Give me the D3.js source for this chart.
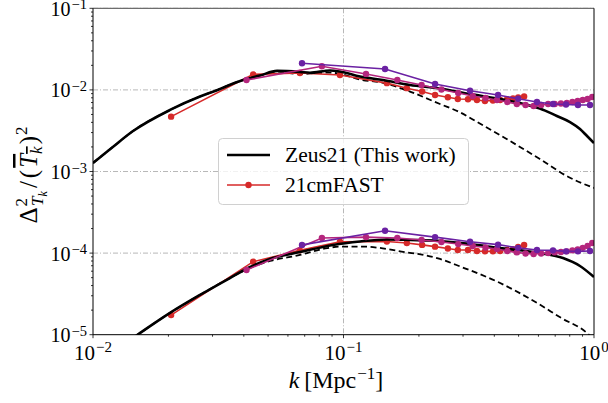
<!DOCTYPE html>
<html><head><meta charset="utf-8">
<script src="https://cdn.jsdelivr.net/npm/d3@7"></script>
<style>
html,body{margin:0;padding:0;background:#fff;}
svg text{font-family:"Liberation Serif","DejaVu Serif",serif;fill:#000;}
</style></head>
<body><svg id="chart" width="608" height="403" font-family="Liberation Serif, DejaVu Serif, serif"></svg>
<script>
// ---------------- DATA ----------------
const xTickValues = [0.01, 0.1, 1];
const xTickExps = ["\u22122", "\u22121", "0"];
const yTickValues = [1e-5, 1e-4, 1e-3, 1e-2, 1e-1];
const yTickExps = ["\u22125", "\u22124", "\u22123", "\u22122", "\u22121"];
const yGridValues = [1e-4, 1e-3, 1e-2, 1e-1];
const xGridValues = [0.1];

// Zeus21, upper redshift, solid
const zeusHiK = [0.0100, 0.0120, 0.01445, 0.0203, 0.02674, 0.0301, 0.0397, 0.0464, 0.0543, 0.0670, 0.0735, 0.0883, 0.0968, 0.1164, 0.1439, 0.1842, 0.2427, 0.320, 0.410, 0.507, 0.608, 0.711, 0.802, 0.879, 0.938, 1.0];
const zeusHiV = [1.27e-3, 2.0e-3, 3.13e-3, 5.68e-3, 8.30e-3, 9.5e-3, 1.32e-2, 1.50e-2, 1.71e-2, 1.66e-2, 1.62e-2, 1.73e-2, 1.68e-2, 1.46e-2, 1.32e-2, 1.15e-2, 1.04e-2, 8.9e-3, 7.85e-3, 6.9e-3, 5.91e-3, 4.79e-3, 4.04e-3, 3.32e-3, 2.72e-3, 2.23e-3];
// Zeus21, upper redshift, dashed
const zeusHiDashK = [0.0100, 0.0120, 0.01445, 0.0203, 0.02674, 0.0301, 0.0397, 0.0464, 0.0543, 0.0670, 0.0735, 0.0883, 0.0968, 0.1164, 0.1439, 0.1842, 0.2427, 0.290, 0.341, 0.448, 0.608, 0.791, 1.0];
const zeusHiDashV = [1.27e-3, 2.0e-3, 3.13e-3, 5.68e-3, 8.30e-3, 9.5e-3, 1.32e-2, 1.50e-2, 1.68e-2, 1.56e-2, 1.59e-2, 1.63e-2, 1.57e-2, 1.34e-2, 1.22e-2, 9.55e-3, 6.71e-3, 5.36e-3, 4.05e-3, 2.50e-3, 1.42e-3, 8.57e-4, 6.28e-4];
// Zeus21, lower redshift, solid
const zeusLoK = [0.01282, 0.0150, 0.0203, 0.02674, 0.0352, 0.0424, 0.0509, 0.0670, 0.0908, 0.1164, 0.149, 0.1842, 0.2427, 0.320, 0.422, 0.608, 0.752, 0.879, 1.0];
const zeusLoV = [7.1e-6, 9.9e-6, 1.85e-5, 3.07e-5, 4.95e-5, 6.76e-5, 8.48e-5, 1.03e-4, 1.26e-4, 1.39e-4, 1.47e-4, 1.45e-4, 1.41e-4, 1.29e-4, 1.15e-4, 1.00e-4, 8.7e-5, 6.95e-5, 5.09e-5];
// Zeus21, lower redshift, dashed
const zeusLoDashK = [0.01282, 0.0150, 0.0203, 0.02674, 0.0352, 0.0424, 0.0509, 0.0670, 0.0844, 0.0976, 0.1227, 0.1385, 0.1658, 0.2427, 0.2938, 0.418, 0.592, 0.741, 0.940, 1.0];
const zeusLoDashV = [7.1e-6, 9.9e-6, 1.85e-5, 3.07e-5, 4.95e-5, 6.60e-5, 8.0e-5, 9.48e-5, 1.14e-4, 1.20e-4, 1.20e-4, 1.16e-4, 1.06e-4, 8.48e-5, 6.81e-5, 4.36e-5, 2.45e-5, 1.60e-5, 1.04e-5, 8.6e-6];

// 21cmFAST, red
const redK = [0.0205, 0.0436, 0.0670, 0.0968, 0.149, 0.179, 0.206, 0.232, 0.261, 0.286, 0.314, 0.341, 0.367, 0.395, 0.422, 0.450, 0.475, 0.498, 0.526];
const redHiV = [4.70e-3, 1.55e-2, 1.61e-2, 1.52e-2, 1.21e-2, 1.05e-2, 9.55e-3, 8.66e-3, 8.11e-3, 7.74e-3, 7.67e-3, 7.52e-3, 7.31e-3, 7.41e-3, 7.52e-3, 7.67e-3, 7.85e-3, 8.07e-3, 8.30e-3];
const redLoV = [1.74e-5, 7.85e-5, 1.08e-4, 1.38e-4, 1.39e-4, 1.33e-4, 1.26e-4, 1.20e-4, 1.14e-4, 1.09e-4, 1.09e-4, 1.06e-4, 1.05e-4, 1.05e-4, 1.06e-4, 1.09e-4, 1.12e-4, 1.19e-4, 1.26e-4];
// magenta
const magK = [0.041, 0.082, 0.123, 0.164, 0.205, 0.246, 0.287, 0.328, 0.369, 0.410, 0.451, 0.492, 0.533, 0.574, 0.615, 0.656, 0.697, 0.738, 0.779, 0.820, 0.861, 0.902, 0.943, 0.984];
const magHiV = [1.32e-2, 1.95e-2, 1.57e-2, 1.32e-2, 1.15e-2, 1.01e-2, 9.16e-3, 8.41e-3, 7.96e-3, 7.52e-3, 7.11e-3, 6.72e-3, 6.53e-3, 6.35e-3, 6.53e-3, 6.72e-3, 6.72e-3, 6.81e-3, 6.90e-3, 7.11e-3, 7.31e-3, 7.52e-3, 7.74e-3, 8.19e-3];
const magLoV = [6.21e-5, 1.53e-4, 1.57e-4, 1.53e-4, 1.45e-4, 1.37e-4, 1.29e-4, 1.22e-4, 1.17e-4, 1.12e-4, 1.06e-4, 1.02e-4, 9.88e-5, 9.75e-5, 9.88e-5, 1.00e-4, 1.02e-4, 1.03e-4, 1.05e-4, 1.08e-4, 1.11e-4, 1.16e-4, 1.22e-4, 1.33e-4];
// purple
const purK = [0.0683, 0.1465, 0.232, 0.320, 0.414, 0.498, 0.592, 0.686, 0.773, 0.863, 0.964];
const purHiV = [2.12e-2, 1.80e-2, 1.18e-2, 9.77e-3, 8.65e-3, 7.80e-3, 7.11e-3, 6.72e-3, 6.62e-3, 6.53e-3, 6.53e-3];
const purLoV = [1.26e-4, 1.88e-4, 1.57e-4, 1.38e-4, 1.27e-4, 1.16e-4, 1.09e-4, 1.08e-4, 1.05e-4, 1.05e-4, 1.06e-4];

const legendLabels = ["Zeus21 (This work)", "21cmFAST"];
const colors = {red: "#d62a2a", mag: "#b4267d", pur: "#6b21a3"};
const FONT = "Liberation Serif, DejaVu Serif, serif";

// ---------------- CHART ----------------
const svg = d3.select("#chart");
const L = 93, T = 8.3, R = 594, B = 334.7;
const x = d3.scaleLog().domain([0.01, 1]).range([L, R]);
const y = d3.scaleLog().domain([1e-5, 1e-1]).range([B, T]);

svg.append("defs").append("clipPath").attr("id", "clip")
  .append("rect").attr("x", L).attr("y", T).attr("width", R - L).attr("height", B - T);

// grid
const grid = svg.append("g");
grid.selectAll("line.h").data(yGridValues).join("line")
  .attr("x1", L).attr("x2", R).attr("y1", d => y(d)).attr("y2", d => y(d))
  .attr("stroke", "#b8b8b8").attr("stroke-width", 1).attr("stroke-dasharray", "5,2,1,2");
grid.selectAll("line.v").data(xGridValues).join("line")
  .attr("y1", T).attr("y2", B).attr("x1", d => x(d)).attr("x2", d => x(d))
  .attr("stroke", "#b8b8b8").attr("stroke-width", 1).attr("stroke-dasharray", "5,2,1,2");

const plot = svg.append("g").attr("clip-path", "url(#clip)");
const smooth = d3.line().x(d => x(d[0])).y(d => y(d[1])).curve(d3.curveMonotoneX);
const straight = d3.line().x(d => x(d[0])).y(d => y(d[1]));
const zip = (a, b) => a.map((v, i) => [v, b[i]]);

function blackCurve(k, v, dashed) {
  plot.append("path").datum(zip(k, v)).attr("d", smooth)
    .attr("fill", "none").attr("stroke", "#000").attr("stroke-width", dashed ? 1.8 : 2.6)
    .attr("stroke-dasharray", dashed ? "6,3.5" : null);
}
function markerSeries(k, v, col) {
  const g = plot.append("g");
  g.append("path").datum(zip(k, v)).attr("d", straight)
    .attr("fill", "none").attr("stroke", col).attr("stroke-width", 1.6);
  g.selectAll("circle").data(zip(k, v)).join("circle")
    .attr("cx", d => x(d[0])).attr("cy", d => y(d[1])).attr("r", 3.2).attr("fill", col);
}

blackCurve(zeusHiDashK, zeusHiDashV, true);
blackCurve(zeusLoDashK, zeusLoDashV, true);
markerSeries(redK, redHiV, colors.red);
markerSeries(redK, redLoV, colors.red);
blackCurve(zeusHiK, zeusHiV, false);
blackCurve(zeusLoK, zeusLoV, false);
markerSeries(magK, magHiV, colors.mag);
markerSeries(magK, magLoV, colors.mag);
markerSeries(purK, purHiV, colors.pur);
markerSeries(purK, purLoV, colors.pur);

// spines
svg.append("line").attr("x1", L).attr("x2", R).attr("y1", T).attr("y2", T).attr("stroke", "#6e6e6e").attr("stroke-width", 1.3);
svg.append("line").attr("x1", R).attr("x2", R).attr("y1", T).attr("y2", B).attr("stroke", "#000").attr("stroke-width", 1);
svg.append("line").attr("x1", L).attr("x2", L).attr("y1", T).attr("y2", B).attr("stroke", "#000").attr("stroke-width", 1);
svg.append("line").attr("x1", L).attr("x2", R).attr("y1", B).attr("y2", B).attr("stroke", "#000").attr("stroke-width", 1);

// ticks
const xMinor = x.ticks().filter(t => !xTickValues.some(m => Math.abs(m - t) / m < 1e-6));
const yMinor = y.ticks().filter(t => !yTickValues.some(m => Math.abs(m - t) / m < 1e-6));
const tg = svg.append("g").attr("stroke", "#000").attr("stroke-width", 0.8);
tg.selectAll("line.xM").data(xTickValues).join("line")
  .attr("x1", d => x(d)).attr("x2", d => x(d)).attr("y1", B).attr("y2", B + 3.5);
tg.selectAll("line.xm").data(xMinor).join("line")
  .attr("x1", d => x(d)).attr("x2", d => x(d)).attr("y1", B).attr("y2", B + 2);
tg.selectAll("line.yM").data(yTickValues).join("line")
  .attr("y1", d => y(d)).attr("y2", d => y(d)).attr("x1", L).attr("x2", L - 3.5);
tg.selectAll("line.ym").data(yMinor).join("line")
  .attr("y1", d => y(d)).attr("y2", d => y(d)).attr("x1", L).attr("x2", L - 2);

// tick labels
xTickValues.forEach((v, i) => {
  const t = svg.append("text").attr("font-family", FONT).attr("x", x(v)).attr("y", 360).attr("text-anchor", "middle").attr("font-size", 21);
  t.append("tspan").text("10");
  t.append("tspan").attr("dx", 1).attr("dy", -8).attr("font-size", 15).text(xTickExps[i]);
});
yTickValues.forEach((v, i) => {
  const t = svg.append("text").attr("font-family", FONT).attr("x", 87).attr("y", y(v) + 7.5).attr("text-anchor", "end").attr("font-size", 20);
  t.append("tspan").text("10");
  t.append("tspan").attr("dx", 1).attr("dy", -6.5).attr("font-size", 14.5).text(yTickExps[i]);
});

// x label
const xl = svg.append("text").attr("font-family", FONT).attr("x", 336).attr("y", 388).attr("text-anchor", "middle").attr("font-size", 24);
xl.append("tspan").attr("font-style", "italic").text("k");
xl.append("tspan").attr("dx", 5).text("[Mpc");
xl.append("tspan").attr("dx", 1).attr("dy", -9).attr("font-size", 17).text("\u22121");
xl.append("tspan").attr("dy", 9).text("]");

// y label
const yl = svg.append("text").attr("font-family", FONT).attr("transform", "translate(37,175) rotate(-90)").attr("text-anchor", "middle").attr("font-size", 25);
yl.append("tspan").text("\u0394");
yl.append("tspan").attr("dx", 1).attr("dy", -10).attr("font-size", 17).text("2");
yl.append("tspan").attr("dx", -8).attr("dy", 16).attr("font-size", 17).attr("font-style", "italic").text("T");
yl.append("tspan").attr("dy", 4).attr("font-size", 12).attr("font-style", "italic").text("k");
yl.append("tspan").attr("dx", 3).attr("dy", -10).text("/");
yl.append("tspan").attr("dx", 3).text("(");
yl.append("tspan").attr("dx", 2).attr("font-style", "italic").attr("text-decoration", "overline").text("T");
yl.append("tspan").attr("dy", 5).attr("font-size", 17).attr("font-style", "italic").attr("text-decoration", "overline").text("k");
yl.append("tspan").attr("dx", 2).attr("dy", -5).text(")");
yl.append("tspan").attr("dx", 1).attr("dy", -10).attr("font-size", 17).text("2");

// legend
const lg = svg.append("g");
lg.append("rect").attr("x", 218.5).attr("y", 138.5).attr("width", 250).attr("height", 66).attr("rx", 4)
  .attr("fill", "#fff").attr("fill-opacity", 0.8).attr("stroke", "#d0d0d0").attr("stroke-width", 1);
lg.append("line").attr("x1", 227).attr("x2", 270).attr("y1", 155).attr("y2", 155).attr("stroke", "#000").attr("stroke-width", 2.6);
lg.append("text").attr("font-family", FONT).attr("x", 285).attr("y", 162).attr("font-size", 21.5).text(legendLabels[0]);
lg.append("line").attr("x1", 227).attr("x2", 270).attr("y1", 185).attr("y2", 185).attr("stroke", colors.red).attr("stroke-width", 1.6);
lg.append("circle").attr("cx", 248.5).attr("cy", 185).attr("r", 3.2).attr("fill", colors.red);
lg.append("text").attr("font-family", FONT).attr("x", 285).attr("y", 192).attr("font-size", 21.5).text(legendLabels[1]);
</script></body></html>
